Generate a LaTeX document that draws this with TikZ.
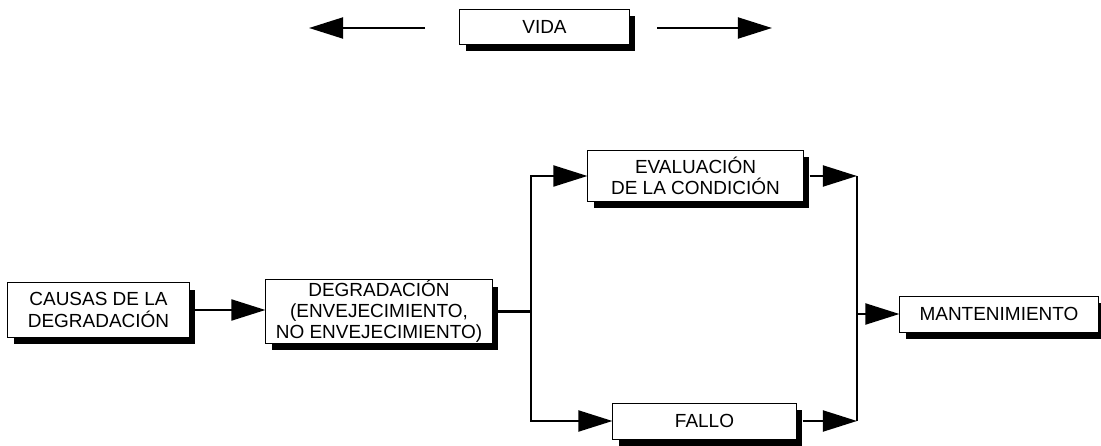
\documentclass[tikz,border=0pt]{standalone}
\usepackage{fontspec}
\setmainfont{Liberation Sans}
\usetikzlibrary{calc, positioning, shadows, arrows.meta}

\begin{document}
\begin{tikzpicture}[x=0.025cm,y=-0.025cm,
    box/.style={draw,line width=0.7pt,fill=white,align=center,inner sep=0pt,
      font=\fontsize{13.5}{15}\selectfont,
      drop shadow={shadow xshift=0.16cm,shadow yshift=-0.17cm,opacity=1,fill=black}},
    conn/.style={line width=1.8pt},
    arr/.style={conn,-{Triangle[length=0.85cm,width=0.52cm]}}]
  \useasboundingbox (0,0) rectangle (1101,446);
  % boxes
  \node[box,minimum width=4.225cm,minimum height=0.875cm] (vida) at (544.5,26.5) {VIDA};
  \node[box,minimum width=4.525cm,minimum height=1.35cm] (causas) at (98.5,310) {CAUSAS DE LA\\DEGRADACIÓN};
  \node[box,minimum width=5.65cm,minimum height=1.575cm] (degrad) at (379,311.5) {DEGRADACIÓN\\(ENVEJECIMIENTO,\\NO ENVEJECIMIENTO)};
  \node[box,minimum width=5.375cm,minimum height=1.275cm] (eval) at (695.5,176) {EVALUACIÓN\\DE LA CONDICIÓN};
  \node[box,minimum width=4.575cm,minimum height=0.9cm] (fallo) at (704.5,421) {FALLO};
  \node[box,minimum width=4.95cm,minimum height=0.9cm] (mant) at (999,314) {MANTENIMIENTO};
  % junctions
  \coordinate (split) at (531,311.5);
  \coordinate (merge) at (857,314);
  \coordinate (pastA) at (425,28);
  \coordinate (pastB) at (309,28);
  \coordinate (futA) at (657,28);
  \coordinate (futB) at (772,28);
  % connectors
  \draw[arr] (pastA) -- (pastB);
  \draw[arr] (futA) -- (futB);
  \draw[arr] (causas.east) -- (causas.east -| degrad.west);
  \draw[conn] (degrad.east) -- (split);
  \draw[arr] (split) |- (eval.west);
  \draw[arr] (split) |- (fallo.west);
  \draw[arr] (eval.east) ++(0.15cm,0) -- (eval.east -| merge);
  \draw[arr] (fallo.east) ++(0.15cm,0) -- (fallo.east -| merge);
  \draw[conn] (eval.east -| merge) -- (fallo.east -| merge);
  \draw[arr] (merge) -- (mant.west);
\end{tikzpicture}
\end{document}
